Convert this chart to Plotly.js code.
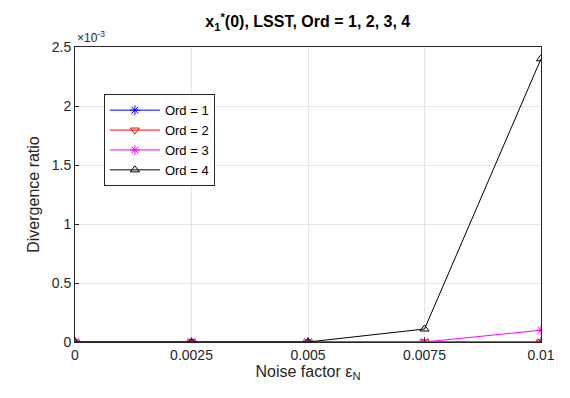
<!DOCTYPE html>
<html><head><meta charset="utf-8">
<script src="https://cdn.plot.ly/plotly-3.0.1.min.js"></script>
<style>html,body{margin:0;padding:0;background:#fff}#plot{width:570px;height:398px}</style>
</head><body><div id="plot"></div>
<script>
const noise = [0, 0.0025, 0.005, 0.0075, 0.01];
const ord1 = [0, 0, 0, 0, 0];
const ord2 = [0, 0, 0, 0, 0];
const ord3 = [0, 0, 0, 0, 0.0001];
const ord4 = [0, 0, 0, 0.00011, 0.0024];
const xTicks = [0, 0.0025, 0.005, 0.0075, 0.01];
const xTickText = ['0', '0.0025', '0.005', '0.0075', '0.01'];
const yTicks = [0, 0.0005, 0.001, 0.0015, 0.002, 0.0025];
const yTickText = ['0', '0.5', '1', '1.5', '2', '2.5'];

const font = 'Liberation Sans, Arial, Helvetica, sans-serif';
function tr(y, name, color, sym) {
  return {x: noise, y: y, name: name, type: 'scatter', mode: 'lines+markers',
    line: {color: color, width: 1},
    marker: {symbol: sym, size: 8, color: color, line: {color: color, width: 1}}};
}
const data = [
  tr(ord1, 'Ord = 1', '#0000ff', 'asterisk-open'),
  tr(ord2, 'Ord = 2', '#ff0000', 'triangle-down-open'),
  tr(ord3, 'Ord = 3', '#ff00ff', 'asterisk-open'),
  tr(ord4, 'Ord = 4', '#000000', 'triangle-up-open')
];
const axBase = {showline: true, mirror: true, linecolor: '#262626', linewidth: 1,
  showgrid: true, gridcolor: '#e6e6e6', zeroline: false, ticks: 'inside', ticklen: 4,
  tickcolor: '#262626', tickfont: {family: font, size: 14, color: '#262626'}};
const layout = {
  width: 570, height: 398,
  margin: {l: 75, r: 29, t: 47, b: 56},
  paper_bgcolor: '#fff', plot_bgcolor: '#fff',
  title: {text: '<b>x<sub>1</sub></b><b><sup>*</sup>(0), LSST, Ord = 1, 2, 3, 4</b>', x: 0.54, xanchor: 'center', y: 0.945, yanchor: 'middle',
    font: {family: font, size: 16, color: '#000'}},
  xaxis: Object.assign({}, axBase, {range: [0, 0.01], tickvals: xTicks, ticktext: xTickText,
    title: {text: 'Noise factor ε<sub>N</sub>', font: {family: font, size: 16, color: '#262626'}, standoff: 0}}),
  yaxis: Object.assign({}, axBase, {range: [0, 0.0025], tickvals: yTicks, ticktext: yTickText,
    title: {text: 'Divergence ratio', font: {family: font, size: 16, color: '#262626'}, standoff: 8}}),
  showlegend: true,
  legend: {x: 0.062, y: 0.84, xanchor: 'left', yanchor: 'top', bgcolor: '#fff',
    bordercolor: '#262626', borderwidth: 1, font: {family: font, size: 13, color: '#000'},
    tracegroupgap: 0, itemwidth: 50},
  annotations: [{xref: 'paper', yref: 'paper', x: 0, y: 1, xanchor: 'left', yanchor: 'bottom',
    text: '×10<sup>-3</sup>', showarrow: false, font: {family: font, size: 12, color: '#262626'}, yshift: 0}]
};
Plotly.newPlot('plot', data, layout, {displayModeBar: false, staticPlot: true});
</script></body></html>
